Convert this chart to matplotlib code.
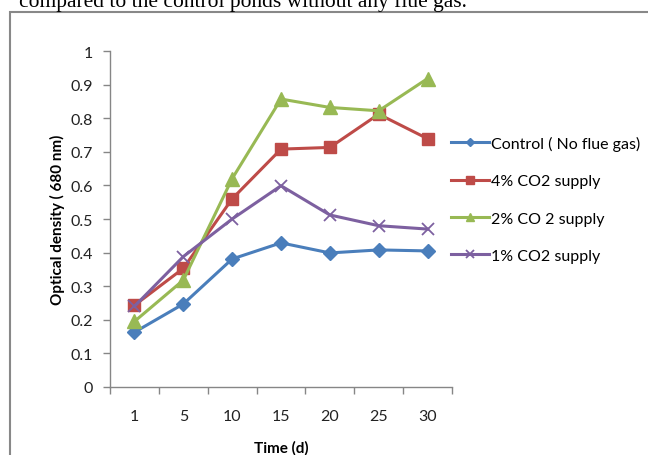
import numpy as np
import matplotlib.pyplot as plt
from matplotlib.patches import Rectangle

# optical density readings over the culture period
days = ['1', '5', '10', '15', '20', '25', '30']
control = [0.163, 0.247, 0.381, 0.429, 0.399, 0.408, 0.405]
co2_4 = [0.243, 0.353, 0.560, 0.708, 0.713, 0.812, 0.739]
co2_2 = [0.195, 0.318, 0.620, 0.857, 0.832, 0.822, 0.918]
co2_1 = [0.240, 0.388, 0.500, 0.599, 0.512, 0.480, 0.470]
names = ['Control ( No flue gas)', '4% CO2 supply', '2% CO 2 supply', '1% CO2 supply']

plt.rcParams['font.family'] = ['Lato', 'DejaVu Sans']

fig = plt.figure(figsize=(6.48, 4.56), dpi=100)

# caption line from the page, cut by the top edge
fig.text(0.03, 1 - 7 / 456, 'compared to the control ponds without any flue gas.',
         family='Liberation Serif', fontsize=15.5, va='baseline', ha='left')
# chart frame
fig.patches.append(Rectangle((10 / 648, -0.05), 1.2, 1 - 13 / 456 + 0.05,
                             transform=fig.transFigure, fill=False,
                             edgecolor='#888888', linewidth=1.5))

ax = fig.add_axes([110 / 648, 68 / 456, 342 / 648, 336 / 456])
x = np.arange(len(days))

ax.plot(x, control, color='#4a7ebb', marker='D', markersize=7.5, linewidth=2.2, label=names[0])
ax.plot(x, co2_4, color='#be4b48', marker='s', markersize=8.5, linewidth=2.2, label=names[1])
ax.plot(x, co2_2, color='#98b954', marker='^', markersize=9.5, linewidth=2.2, label=names[2])
ax.plot(x, co2_1, color='#7d60a0', marker='x', markersize=8.5, markeredgewidth=1.3,
        linewidth=2.2, label=names[3])

ax.set_xlim(-0.5, len(days) - 0.5)
ax.set_ylim(0, 1)
ax.set_yticks(np.arange(0, 1.01, 0.1))
ax.set_yticklabels(['0', '0.1', '0.2', '0.3', '0.4', '0.5', '0.6', '0.7', '0.8', '0.9', '1'])
ax.set_xticks(x)
ax.set_xticklabels(days)
ax.set_xticks(np.arange(-0.5, len(days)), minor=True)
ax.tick_params(axis='x', which='major', length=0, pad=16, labelsize=11.5, colors='#222222')
ax.tick_params(axis='x', which='minor', length=5, color='#868686', width=1)
ax.tick_params(axis='y', length=5, color='#868686', width=1, labelsize=11.5, colors='#222222', pad=7)
for s in ['top', 'right']:
    ax.spines[s].set_visible(False)
for s in ['left', 'bottom']:
    ax.spines[s].set_color('#868686')
    ax.spines[s].set_linewidth(1)

ax.set_xlabel('Time (d)', fontsize=11, fontweight='bold', labelpad=12)
ax.set_ylabel('Optical density ( 680 nm)', fontsize=11, fontweight='bold', labelpad=4)

ax.legend(loc='upper left', bbox_to_anchor=(451 / 648, 1 - 137 / 456),
          bbox_transform=fig.transFigure, frameon=False, fontsize=11.5,
          handlelength=2.4, handletextpad=0.1, labelspacing=1.45, markerscale=0.6,
          borderaxespad=0, borderpad=0)

fig.savefig('out.png', dpi=100)
